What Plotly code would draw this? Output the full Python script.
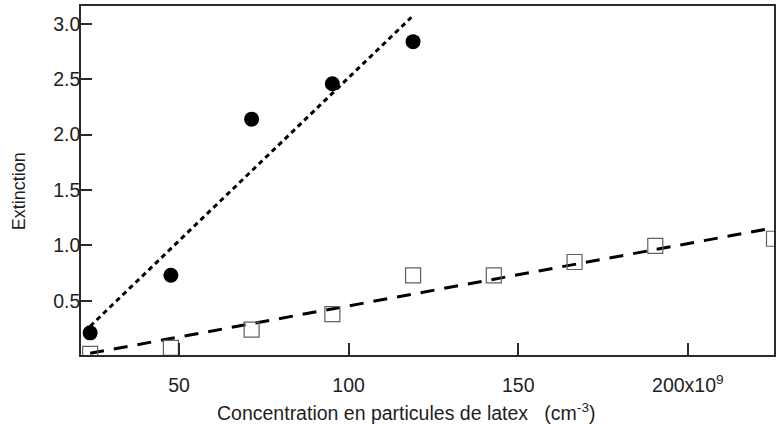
import plotly.graph_objects as go

# Concentration (x10^9 cm^-3) and measured extinction
conc_circles = [23.8, 47.6, 71.4, 95.2, 119.0]
ext_circles = [0.21, 0.73, 2.14, 2.46, 2.84]

conc_squares = [23.8, 47.6, 71.4, 95.2, 119.0, 142.8, 166.6, 190.4, 225.4]
ext_squares = [0.02, 0.075, 0.24, 0.38, 0.73, 0.73, 0.85, 0.995, 1.06]

# Linear fit lines (end points)
fit_circles_x = [23.8, 118.5]
fit_circles_y = [0.27, 3.06]
fit_squares_x = [23.8, 230.0]
fit_squares_y = [0.025, 1.185]

x_ticks = [50, 100, 150, 200]
x_tick_text = ["50", "100", "150", "200x10<sup>9</sup>"]
y_ticks = [0.5, 1.0, 1.5, 2.0, 2.5, 3.0]
y_tick_text = ["0.5", "1.0", "1.5", "2.0", "2.5", "3.0"]

axis_color = "#2b2b2b"
text_color = "#1e1e1e"
font_family = "Liberation Sans, Arial, sans-serif"

fig = go.Figure()

fig.add_trace(go.Scatter(
    x=fit_circles_x, y=fit_circles_y, mode="lines",
    line=dict(color="black", width=3, dash="5px,4px"),
    hoverinfo="skip", showlegend=False,
))
fig.add_trace(go.Scatter(
    x=fit_squares_x, y=fit_squares_y, mode="lines",
    line=dict(color="black", width=3, dash="14px,10px"),
    hoverinfo="skip", showlegend=False,
))
fig.add_trace(go.Scatter(
    x=conc_squares, y=ext_squares, mode="markers",
    marker=dict(symbol="square-open", size=15, color="#606060",
                line=dict(width=1.2, color="#606060")),
    showlegend=False,
))
fig.add_trace(go.Scatter(
    x=conc_circles, y=ext_circles, mode="markers",
    marker=dict(symbol="circle", size=15, color="black"),
    showlegend=False,
))

fig.update_layout(
    width=776, height=424,
    margin=dict(l=81, r=0, t=6, b=69),
    plot_bgcolor="white", paper_bgcolor="white",
    font=dict(family=font_family, size=19, color=text_color),
    xaxis=dict(
        range=[21.1, 225.4], tickvals=x_ticks, ticktext=x_tick_text,
        ticks="inside", ticklen=12, tickwidth=1.5, tickcolor=axis_color,
        showline=True, linecolor=axis_color, linewidth=1.5,
        mirror=True, showgrid=False, zeroline=False,
        tickfont=dict(size=19.5, color=text_color),
        ticklabelstandoff=12,
    ),
    yaxis=dict(
        range=[0.01, 3.162], tickvals=y_ticks, ticktext=y_tick_text,
        ticks="inside", ticklen=11, tickwidth=1.5, tickcolor=axis_color,
        showline=True, linecolor=axis_color, linewidth=1.5,
        mirror=True, showgrid=False, zeroline=False,
        tickfont=dict(size=19.5, color=text_color),
        ticklabelstandoff=-5,
    ),
    annotations=[
        dict(text="Concentration en particules de latex   (cm<sup>-3</sup>)",
             xref="paper", yref="paper", x=(407 - 81) / 695, y=(355 - 412) / 349,
             xanchor="center", yanchor="middle", showarrow=False,
             font=dict(size=19.5, color=text_color)),
        dict(text="Extinction", textangle=-90,
             xref="paper", yref="paper", x=(19 - 81) / 695, y=(355 - 191) / 349,
             xanchor="center", yanchor="middle", showarrow=False,
             font=dict(size=18, color=text_color)),
    ],
)

fig.write_html("out.html")
